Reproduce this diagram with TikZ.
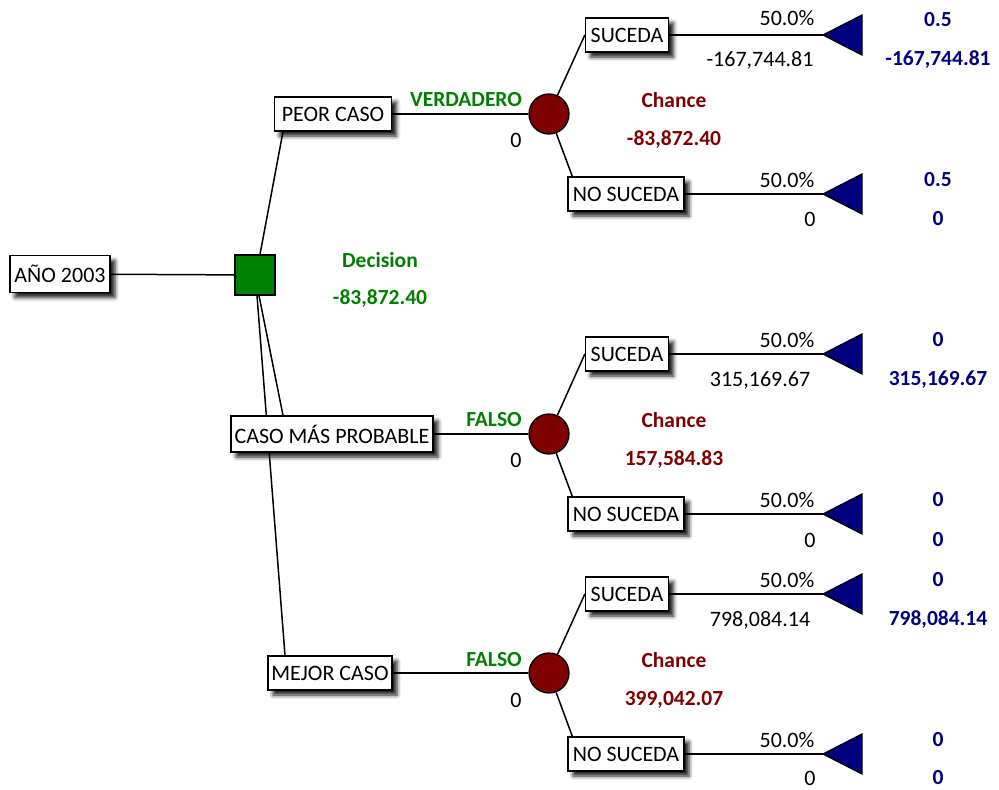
\documentclass[tikz,border=0pt]{standalone}
\usepackage{fontspec}
\setmainfont{Carlito}
\usetikzlibrary{shadows.blur,backgrounds}
\definecolor{dgreen}{RGB}{0,128,0}
\definecolor{dred}{RGB}{128,0,0}
\definecolor{dblue}{RGB}{0,0,128}
\begin{document}
\begin{tikzpicture}[x=1pt,y=-1pt,
  every node/.style={font=\fontsize{22}{26}\selectfont, inner sep=0pt},
  box/.style={draw=black, line width=1.3pt, fill=white, minimum height=34pt,
    blur shadow={shadow xshift=5pt, shadow yshift=-5pt, shadow blur radius=4pt, shadow opacity=90}},
  decnode/.style={draw=black, line width=1.3pt, fill=dgreen, minimum size=40pt},
  chnode/.style={circle, draw=black, line width=1.3pt, fill=dred, minimum size=40pt},
  tri/.style={draw=black, line width=1.3pt, fill=dblue},
  conn/.style={line width=1.5pt},
  glab/.style={text=dgreen, font=\fontsize{21.5}{26}\selectfont\bfseries},
  rlab/.style={text=dred, font=\fontsize{21.5}{26}\selectfont\bfseries},
  blab/.style={text=dblue, font=\fontsize{21.5}{26}\selectfont\bfseries}
]
\useasboundingbox (0,0) rectangle (999,790);

% root and decision
\node[box, minimum width=100pt, minimum height=37pt] (root) at (60,274) {AÑO 2003};
\node[decnode] (sq) at (255,275) {};
\node[glab] (dl) at (380,260) {Decision};
\node[glab] (dv) at (380,299) {-83,872.40};

% option boxes
\node[box, minimum width=117pt] (peor) at (333,114) {PEOR CASO};
\node[box, minimum width=124pt] (mejor) at (330,673) {MEJOR CASO};

% line square -> mejor, passing behind the middle box
\draw[conn] ([xshift=2pt]sq.south) -- ([xshift=-45pt]mejor.north);
\node[box, minimum width=202pt, minimum height=36pt] (caso) at (332,434) {CASO MÁS PROBABLE};

% chance nodes
\node[chnode] (c1) at (549,114) {};
\node[chnode] (c2) at (549,434) {};
\node[chnode] (c3) at (549,673) {};

% outcome boxes
\node[box, minimum width=83pt] (s1) at (627,35) {SUCEDA};
\node[box, minimum width=116pt] (n1) at (626,194) {NO SUCEDA};
\node[box, minimum width=83pt] (s2) at (627,354) {SUCEDA};
\node[box, minimum width=116pt] (n2) at (626,514) {NO SUCEDA};
\node[box, minimum width=83pt] (s3) at (627,594) {SUCEDA};
\node[box, minimum width=116pt] (n3) at (626,754) {NO SUCEDA};

% terminal triangles
\foreach \i/\y in {a/35,b/194,c/354,d/514,e/594,f/754}{
  \coordinate (t\i) at (823,\y);
  \filldraw[tri] (t\i) -- ++(39,-20) -- ++(0,40) -- cycle;
}

% labels on branches
\node[glab] at (466,100) {VERDADERO};
\node at (516,140) {0};
\node[rlab] at (674,100) {Chance};
\node[rlab] at (674,140) {-83,872.40};

\node[glab] at (494,420) {FALSO};
\node at (516,460) {0};
\node[rlab] at (674,420) {Chance};
\node[rlab] at (674,460) {157,584.83};

\node[glab] at (494,660) {FALSO};
\node at (516,700) {0};
\node[rlab] at (674,660) {Chance};
\node[rlab] at (674,700) {399,042.07};

% terminal labels
\node at (787,18) {50.0\%};
\node at (760,60) {-167,744.81};
\node[blab] at (938,20) {0.5};
\node[blab] at (938,60) {-167,744.81};

\node at (787,180) {50.0\%};
\node at (810,219) {0};
\node[blab] at (938,180) {0.5};
\node[blab] at (938,219) {0};

\node at (787,340) {50.0\%};
\node at (760,380) {315,169.67};
\node[blab] at (938,340) {0};
\node[blab] at (938,380) {315,169.67};

\node at (787,500) {50.0\%};
\node at (810,540) {0};
\node[blab] at (938,500) {0};
\node[blab] at (938,540) {0};

\node at (787,580) {50.0\%};
\node at (760,620) {798,084.14};
\node[blab] at (938,580) {0};
\node[blab] at (938,620) {798,084.14};

\node at (787,740) {50.0\%};
\node at (810,778) {0};
\node[blab] at (938,740) {0};
\node[blab] at (938,778) {0};

\begin{scope}[on background layer]
\draw[conn] (root) -- (sq);
\draw[conn] ([xshift=5pt]sq.north) -- ([xshift=-50pt]peor.south);
\draw[conn] ([xshift=4pt]sq.south) -- ([xshift=-49pt]caso.north);
\draw[conn] (peor) -- (c1);
\draw[conn] (caso) -- (c2);
\draw[conn] (mejor) -- (c3);
\foreach \c/\s/\n/\ts/\tn in {c1/s1/n1/ta/tb, c2/s2/n2/tc/td, c3/s3/n3/te/tf}{
  \draw[conn] (\c) -- (\s.west);
  \draw[conn] (\c) -- ([xshift=5pt]\n.north west);
  \draw[conn] (\s) -- (\ts);
  \draw[conn] (\n) -- (\tn);
}
\end{scope}
\end{tikzpicture}
\end{document}
